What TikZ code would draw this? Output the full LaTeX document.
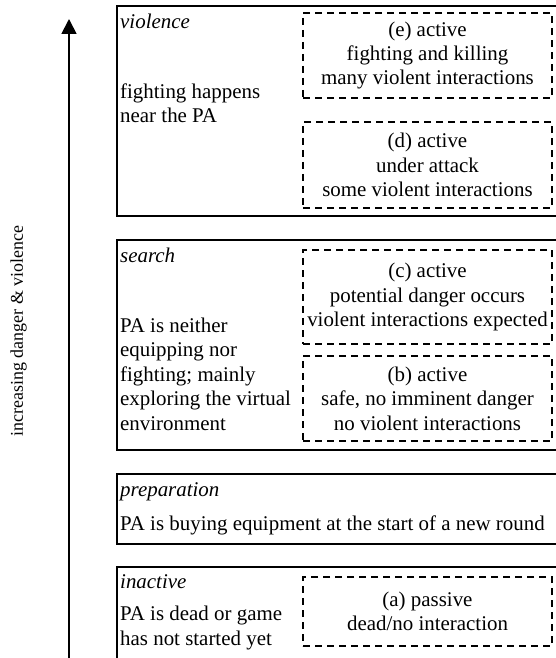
\documentclass[tikz,border=0pt]{standalone}
\usepackage{fontspec}
\setmainfont{Liberation Serif}
\usetikzlibrary{arrows.meta}
\begin{document}
\begin{tikzpicture}[x=1bp,y=-1bp,
  every node/.style={font=\fontsize{21}{24.5}\selectfont},
  outerbox/.style={draw, line width=1.8bp, anchor=north west, inner sep=0pt,
    minimum width=450bp},
  dashbox/.style={draw, line width=1.4bp, dash pattern=on 7bp off 5bp,
    minimum width=249bp, align=center, inner sep=0pt},
  phasetitle/.style={anchor=base west, inner sep=0pt, font=\fontsize{21}{24.5}\selectfont\itshape},
  % multi-line texts are placed by the baseline of their last line
  phasetext/.style={anchor=base west, inner sep=0pt, align=left},
]
\useasboundingbox (0,0) rectangle (556,658);
\clip (0,0) rectangle (556,658);

% phase frames (open to the right and below)
\node[outerbox, minimum height=210bp] (violence) at (116,5) {};
\node[outerbox, minimum height=210bp] (search) at (116,239) {};
\node[outerbox, minimum height=70bp] (preparation) at (116,473) {};
\node[outerbox, minimum height=110bp] (inactive) at (116,566) {};

% phase names and descriptions
\node[phasetitle] (tviolence) at (120,29) {violence};
\node[phasetext] (dviolence) at (120,123) {fighting happens\\near the PA};
\node[phasetitle] (tsearch) at (120,262) {search};
\node[phasetext] (dsearch) at (120,430) {PA is neither\\equipping nor\\fighting; mainly\\exploring the virtual\\environment};
\node[phasetitle] (tprep) at (120,496) {preparation};
\node[phasetext] (dprep) at (120,530) {PA is buying equipment at the start of a new round};
\node[phasetitle] (tinactive) at (120,588) {inactive};
\node[phasetext] (dinactive) at (120,645) {PA is dead or game\\has not started yet};

% interaction states
\node[dashbox, minimum height=85bp] (e) at (427.5,55.5) {(e) active\\fighting and killing\\many violent interactions};
\node[dashbox, minimum height=86bp] (d) at (427.5,165) {(d) active\\under attack\\some violent interactions};
\node[dashbox, minimum height=94bp] (c) at (427.5,297) {(c) active\\potential danger occurs\\violent interactions expected};
\node[dashbox, minimum height=85bp] (b) at (427.5,398.5) {(b) active\\safe, no imminent danger\\no violent interactions};
\node[dashbox, minimum height=69bp] (a) at (427.5,611.5) {(a) passive\\dead/no interaction};

% danger axis
\coordinate (axisbottom) at (69,662);
\coordinate (axistop) at (69,19);
\draw[line width=1.8bp, -{Triangle[length=15bp,width=15bp]}] (axisbottom) -- (axistop);
\node[rotate=90, font=\fontsize{18}{22}\selectfont] (axislabel) at (18.5,331) {increasing danger \& violence};
\end{tikzpicture}
\end{document}
